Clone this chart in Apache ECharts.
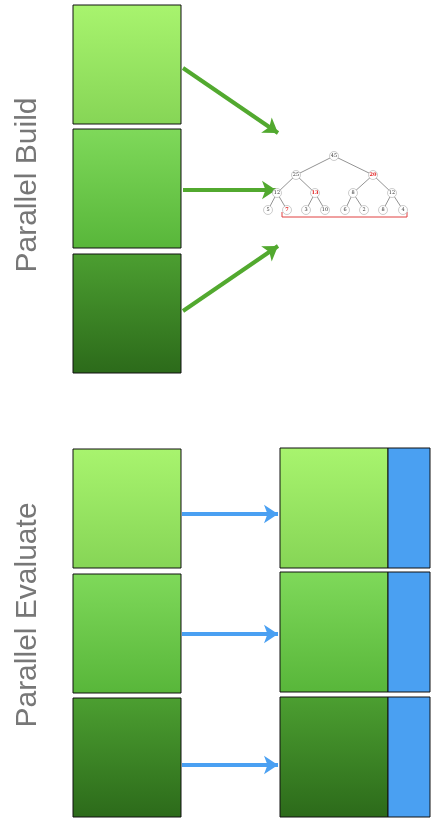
<!DOCTYPE html>
<html>
<head>
<meta charset="utf-8">
<script src="https://cdn.jsdelivr.net/npm/echarts@6/dist/echarts.min.js"></script>
<style>html,body{margin:0;padding:0;background:#fff}#chart{width:436px;height:821px}</style>
</head>
<body>
<div id="chart"></div>
<script>
// boxes: [x0, y0, x1, y1, shade]
const boxes = [
    [73, 5, 181, 124, 0], [73, 129, 181, 248, 1], [73, 254, 181, 373, 2],
    [73, 449, 181, 568, 0], [73, 574, 181, 693, 1], [73, 698, 181, 817, 2],
    [280, 448, 388, 568, 0], [280, 572, 388, 692, 1], [280, 697, 388, 817, 2],
    [388, 448, 430, 568, 3], [388, 572, 430, 692, 3], [388, 697, 430, 817, 3]
];
const shades = [
    ['#a8f46e', '#86d556'], ['#7fd95a', '#58b63a'], ['#4c9f31', '#2c6a1a'], ['#4aa0f2', '#4aa0f2']
];
const buildArrows = [[[183, 68], [278, 133]], [[183, 190], [276, 190]], [[183, 311], [278, 246]]];
const evalArrows = [[[182, 514], [278, 514]], [[182, 634], [278, 634]], [[182, 765], [278, 765]]];
// tree nodes: [x, y, value, highlighted]
const treeNodes = [
    [334, 156, 45, 0],
    [296, 175, 25, 0], [373, 175, 20, 1],
    [277, 193, 12, 0], [315, 193, 13, 1], [353, 193, 8, 0], [392, 193, 12, 0],
    [268, 210, 5, 0], [287, 210, 7, 1], [306, 210, 3, 0], [325, 210, 10, 0],
    [345, 210, 6, 0], [364, 210, 2, 0], [383, 210, 8, 0], [403, 210, 4, 0]
];
const treeEdges = [[0, 1], [0, 2], [1, 3], [1, 4], [2, 5], [2, 6], [3, 7], [3, 8], [4, 9], [4, 10], [5, 11], [5, 12], [6, 13], [6, 14]];
const bracket = [[282, 212], [282, 217], [407, 217], [407, 212]];
const titles = [['Parallel Build', 28, 185], ['Parallel Evaluate', 28, 615]];

const chart = echarts.init(document.getElementById('chart'));

const edgeData = treeEdges.map(([a, b]) => ({
    coords: [treeNodes[a].slice(0, 2), treeNodes[b].slice(0, 2)]
}));

chart.setOption({
    animation: false,
    grid: { left: 0, right: 0, top: 0, bottom: 0 },
    xAxis: { type: 'value', min: 0, max: 436, show: false },
    yAxis: { type: 'value', min: 0, max: 821, inverse: true, show: false },
    series: [
        {
            type: 'custom',
            renderItem: (params, api) => {
                const p0 = api.coord([api.value(0), api.value(1)]);
                const p1 = api.coord([api.value(2), api.value(3)]);
                const s = shades[api.value(4)];
                return {
                    type: 'rect',
                    shape: { x: p0[0], y: p0[1], width: p1[0] - p0[0], height: p1[1] - p0[1] },
                    style: {
                        fill: new echarts.graphic.LinearGradient(0, 0, 0, 1, [
                            { offset: 0, color: s[0] }, { offset: 1, color: s[1] }
                        ]),
                        stroke: '#111', lineWidth: 1
                    }
                };
            },
            data: boxes
        },
        {
            type: 'lines', coordinateSystem: 'cartesian2d',
            symbol: ['none', 'arrow'], symbolSize: 14,
            lineStyle: { color: '#52a92f', width: 4, opacity: 1 },
            data: buildArrows.map(c => ({ coords: c }))
        },
        {
            type: 'lines', coordinateSystem: 'cartesian2d',
            symbol: ['none', 'arrow'], symbolSize: 14,
            lineStyle: { color: '#4aa0f2', width: 4, opacity: 1 },
            data: evalArrows.map(c => ({ coords: c }))
        },
        {
            type: 'lines', coordinateSystem: 'cartesian2d',
            lineStyle: { color: '#777', width: 0.8, opacity: 1 },
            data: edgeData
        },
        {
            type: 'lines', coordinateSystem: 'cartesian2d', polyline: true,
            lineStyle: { color: '#e04040', width: 1, opacity: 1 },
            data: [{ coords: bracket }]
        },
        {
            type: 'scatter', symbol: 'circle', symbolSize: 9, z: 5,
            itemStyle: { color: '#fff', borderColor: '#aaa', borderWidth: 0.6, opacity: 1 },
            label: {
                show: true, position: 'inside', fontSize: 5, fontFamily: 'DejaVu Serif',
                formatter: p => p.value[2],
                color: '#333'
            },
            data: treeNodes.map(n => ({
                value: n,
                label: n[3] ? { color: '#e02020', fontWeight: 'bold' } : undefined
            }))
        }
    ],
    graphic: titles.map(([t, x, y]) => ({
        type: 'text', x: x, y: y, rotation: Math.PI / 2,
        style: {
            text: t, fill: '#777', fontSize: 30, fontFamily: 'Liberation Sans',
            align: 'center', verticalAlign: 'middle'
        }
    }))
});

window.addEventListener('resize', () => chart.resize());
</script>
</body>
</html>
